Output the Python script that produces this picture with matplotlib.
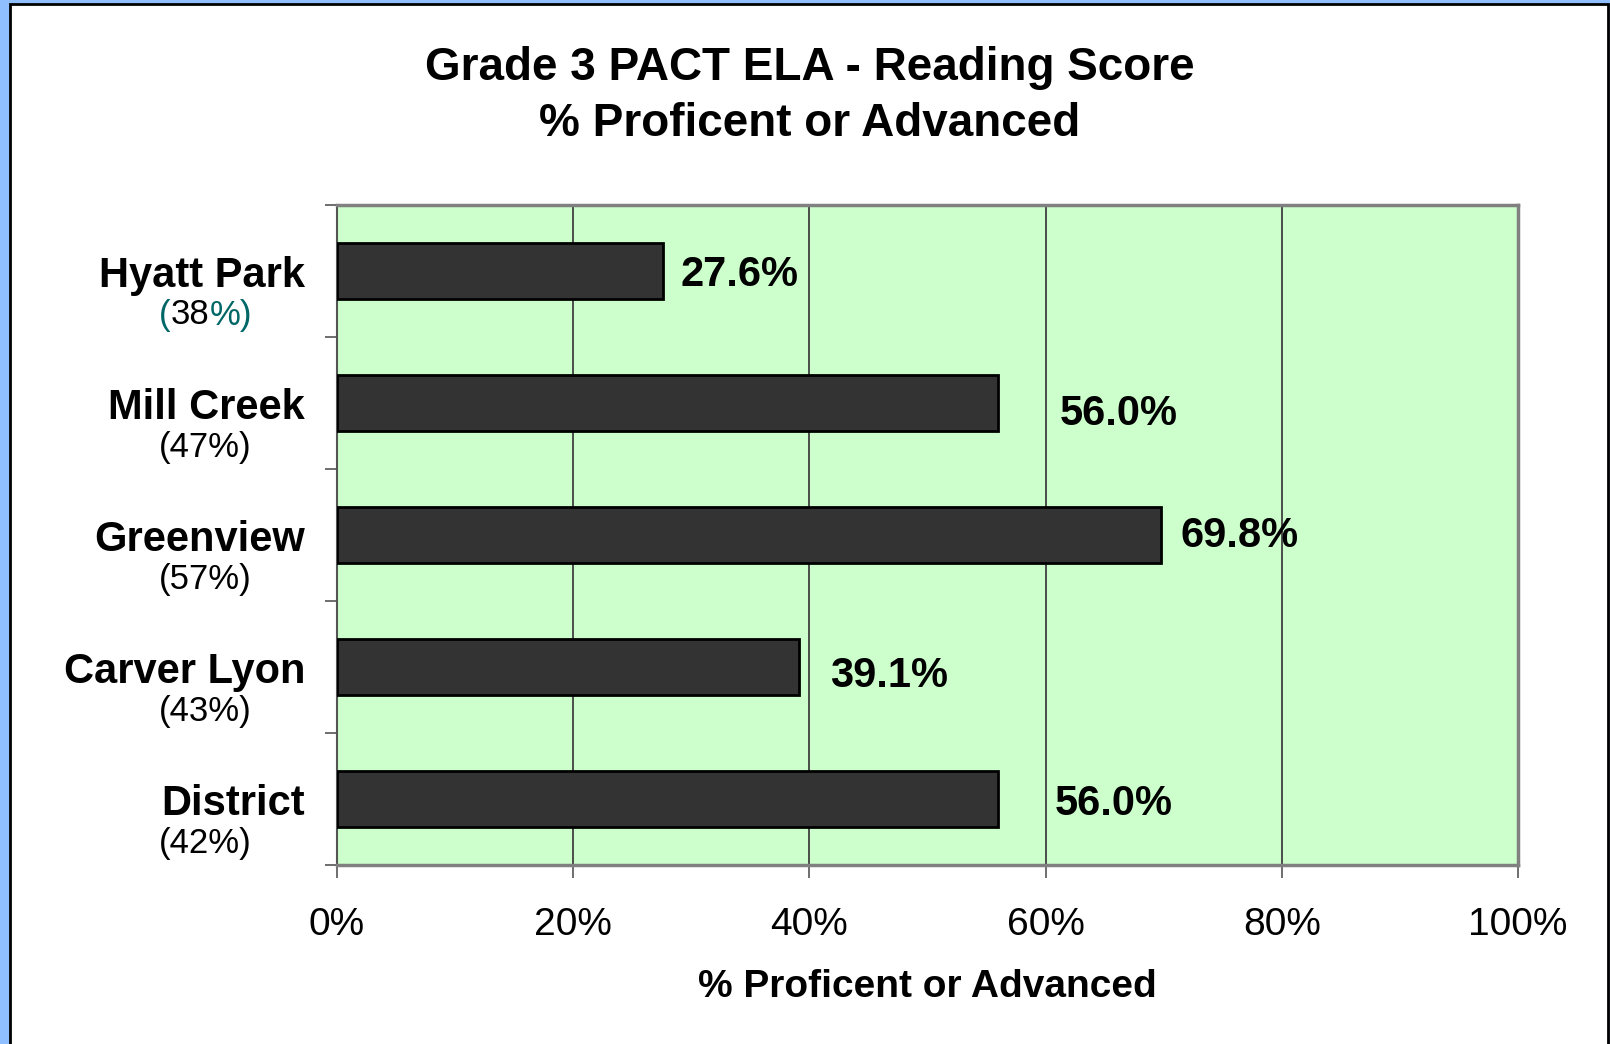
import numpy as np
import matplotlib
matplotlib.use("Agg")
import matplotlib.pyplot as plt
from matplotlib.patches import Rectangle

plt.rcParams['font.family'] = ['Liberation Sans', 'DejaVu Sans']

# donnees
schools = ['Hyatt Park', 'Mill Creek', 'Greenview', 'Carver Lyon', 'District']
prev_pct = ['38%', '47%', '57%', '43%', '42%']
scores = [27.6, 56.0, 69.8, 39.1, 56.0]
xticks = [0, 20, 40, 60, 80, 100]

# decalage des etiquettes de valeur (pixels), place a la main comme dans l'original
label_dx = [18, 61, 19, 31, 56]
label_dy = [-4, -11, -1, -9, -5]

W, H = 1610, 1044
fig = plt.figure(figsize=(W / 100, H / 100), dpi=100)
fig.patch.set_facecolor('#8fbfff')
fig.patches.append(Rectangle((10 / W, -0.05), 1598 / W, 1.05 - 4 / H,
                             transform=fig.transFigure, facecolor='white',
                             edgecolor='black', linewidth=2, zorder=-5))

ax = fig.add_axes([337 / W, 179 / H, 1181 / W, 660 / H])
ax.set_zorder(2)
ax.set_facecolor('#ccffcc')

y = np.arange(len(schools))
ax.barh(y, scores, height=0.42, color='#333333', edgecolor='black', linewidth=2, zorder=3)

ax.set_xlim(0, 100)
ax.set_ylim(len(schools) - 0.5, -0.5)
ax.set_xticks(xticks)
ax.set_xticklabels(['{}%'.format(t) for t in xticks], fontsize=28)
ax.set_yticks(np.arange(len(schools) + 1) - 0.5)
ax.set_yticklabels([])
ax.tick_params(axis='both', length=9, width=1.2, color='#555555', direction='out')
ax.tick_params(axis='x', pad=21)
ax.grid(axis='x', color='#404040', linewidth=1.3, zorder=1)

for s in ['top', 'right', 'bottom']:
    ax.spines[s].set_color('#808080')
    ax.spines[s].set_linewidth(2.5)
ax.spines['left'].set_color('#555555')
ax.spines['left'].set_linewidth(1.5)

ytr = ax.get_yaxis_transform()
for i, name in enumerate(schools):
    ax.annotate(name, xy=(0, i), xycoords=ytr, xytext=(-32, -5), textcoords='offset pixels',
                ha='right', va='center', fontsize=30, fontweight='bold')
    if i == 0:
        # parentheses et % en vert-bleu pour Hyatt Park
        t1 = ax.annotate('(', xy=(0, i), xycoords=ytr, xytext=(-178, -44),
                         textcoords='offset pixels', ha='left', va='center',
                         fontsize=25, color='#006666')
        t2 = ax.annotate(prev_pct[i][:-1], xy=(1, 0), xycoords=t1,
                         ha='left', va='bottom', fontsize=25, color='black')
        ax.annotate('%)', xy=(1, 0), xycoords=t2,
                    ha='left', va='bottom', fontsize=25, color='#006666')
    else:
        ax.annotate('(' + prev_pct[i] + ')', xy=(0, i), xycoords=ytr, xytext=(-178, -44),
                    textcoords='offset pixels', ha='left', va='center', fontsize=25)

for i, v in enumerate(scores):
    ax.annotate('{:.1f}%'.format(v), xy=(v, i), xytext=(label_dx[i], label_dy[i]),
                textcoords='offset pixels', ha='left', va='center',
                fontsize=30, fontweight='bold', zorder=4)

ax.set_xlabel('% Proficent or Advanced', fontsize=28, fontweight='bold', labelpad=19)
fig.text(810 / W, 1 - 68 / H, 'Grade 3 PACT ELA - Reading Score', ha='center', va='center',
         fontsize=33, fontweight='bold')
fig.text(810 / W, 1 - 124 / H, '% Proficent or Advanced', ha='center', va='center',
         fontsize=33, fontweight='bold')

fig.savefig('out.png', dpi=100, facecolor=fig.get_facecolor())
